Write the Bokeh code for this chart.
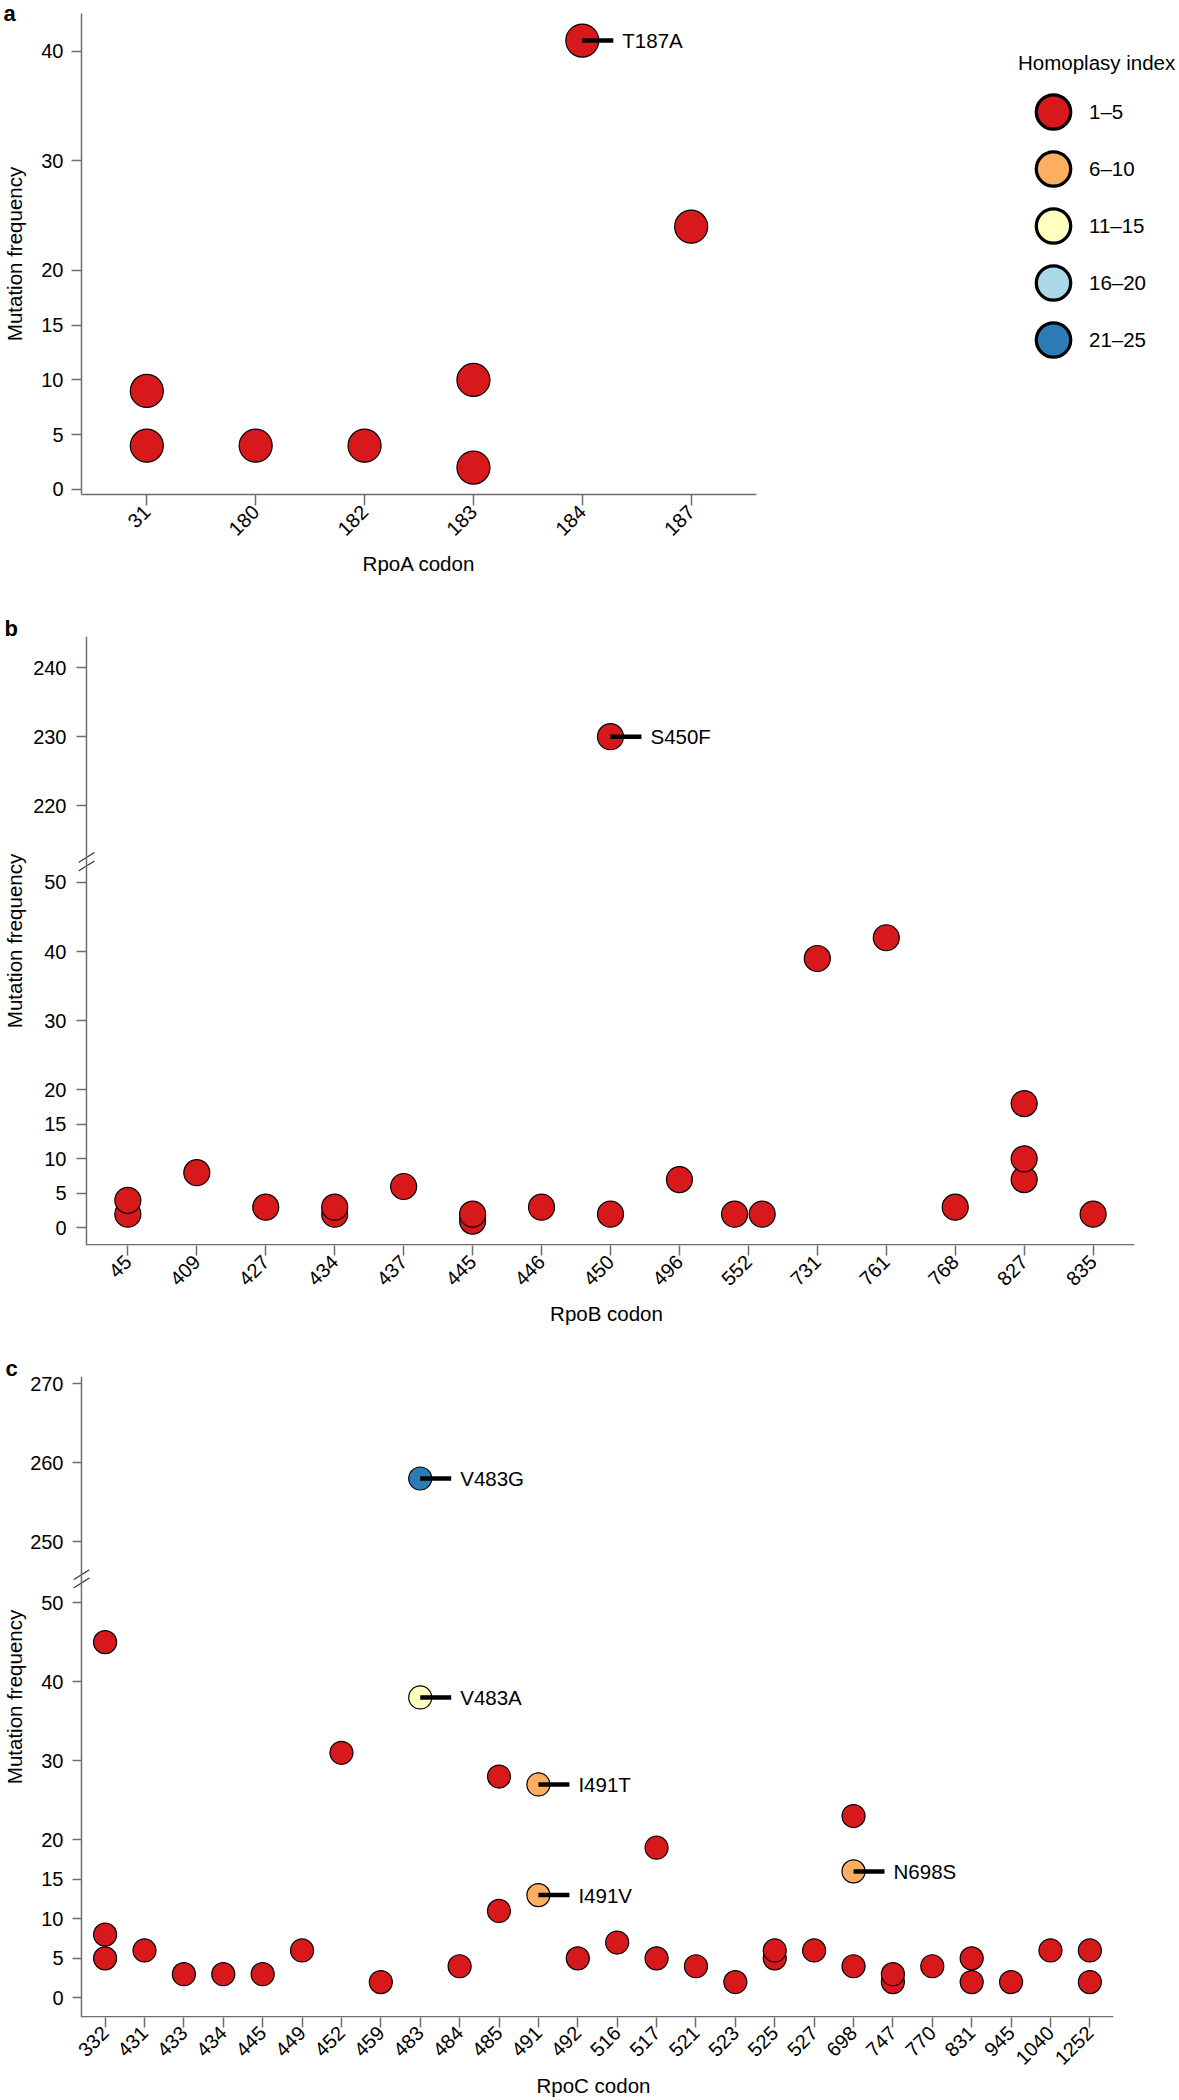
import math
from collections import Counter, defaultdict

from bokeh.plotting import figure
from bokeh.layouts import column, row
from bokeh.models import (ColumnDataSource, Range1d, FixedTicker, CustomJSTransform,
                          CustomJSTickFormatter, Span, Legend, LegendItem)
from bokeh.transform import transform, factor_cmap
from bokeh.core.properties import value
from bokeh.embed import file_html
from bokeh.resources import INLINE

FONT = "Liberation Sans"

# ---------------- data ----------------
hi_classes = ["1–5", "6–10", "11–15", "16–20", "21–25"]
hi_colors = ["#d7191c", "#fdae61", "#ffffbf", "#abd9e9", "#2c7bb6"]

# Panel a: RpoA
rpoa_ticks = ["31", "180", "182", "183", "184", "187"]
rpoa_codon = ["31", "31", "180", "182", "183", "183", "184", "187"]
rpoa_freq = [4, 9, 4, 4, 2, 10, 41, 24]
rpoa_hi = ["1–5"] * 8
rpoa_label = ["", "", "", "", "", "", "T187A", ""]
rpoa_yticks = [0, 5, 10, 15, 20, 30, 40]

# Panel b: RpoB
rpob_ticks = ["45", "409", "427", "434", "437", "445", "446", "450", "496", "552",
              "731", "761", "768", "827", "835"]
rpob_codon = ["45", "45", "409", "427", "434", "434", "437", "445", "445", "446",
              "450", "450", "496", "552", "552", "731", "761", "768", "827", "827",
              "827", "835"]
rpob_freq = [2, 4, 8, 3, 2, 3, 6, 1, 2, 3, 2, 230, 7, 2, 2, 39, 42, 3, 7, 10, 18, 2]
rpob_hi = ["1–5"] * 22
rpob_label = [""] * 11 + ["S450F"] + [""] * 10
rpob_yticks = [0, 5, 10, 15, 20, 30, 40, 50, 220, 230, 240]

# Panel c: RpoC
rpoc_ticks = ["332", "431", "433", "434", "445", "449", "452", "459", "483", "484",
              "485", "491", "492", "516", "517", "521", "523", "525", "527", "698",
              "747", "770", "831", "945", "1040", "1252"]
rpoc_codon = ["332", "332", "332", "431", "433", "434", "445", "449", "452", "459",
              "483", "483", "484", "485", "485", "491", "491", "492", "516", "517",
              "517", "521", "523", "525", "525", "527", "698", "698", "698", "747",
              "747", "770", "831", "831", "945", "1040", "1252", "1252"]
rpoc_freq = [5, 8, 45, 6, 3, 3, 3, 6, 31, 2,
             38, 258, 4, 11, 28, 13, 27, 5, 7, 5,
             19, 4, 2, 5, 6, 6, 4, 16, 23, 2,
             3, 4, 2, 5, 2, 6, 2, 6]
rpoc_hi = (["1–5"] * 10 + ["11–15", "21–25", "1–5", "1–5", "1–5", "6–10", "6–10"]
           + ["1–5"] * 10 + ["6–10"] + ["1–5"] * 10)
rpoc_label = ([""] * 10 + ["V483A", "V483G", "", "", "", "I491V", "I491T"]
              + [""] * 10 + ["N698S"] + [""] * 10)
rpoc_yticks = [0, 5, 10, 15, 20, 30, 40, 50, 250, 260, 270]

AXIS_COL = "#6e6e6e"


def dodge_positions(ticks, codon, freq):
    counts = Counter(zip(codon, freq))
    seen = defaultdict(int)
    xs = []
    for c, f in zip(codon, freq):
        n = counts[(c, f)]
        k = seen[(c, f)]
        seen[(c, f)] += 1
        off = (k - (n - 1) / 2) * 0.4 if n > 1 else 0.0
        xs.append(ticks.index(c) + off)
    return xs


def panel(ticks, codon, freq, hi, label, yticks, *, xlabel, letter, y_lo, y_hi,
          brk=None, gap=0.0, width, height, left, right, top, bottom, size,
          ylab_std, xlab_std, ext=0, xtick_std=3, ytick_std=8, ytick_out=10,
          xtick_out=10, letter_standoff=-9):
    fw = width - left - right
    fh = height - top - bottom
    n = len(ticks)
    ppx = (fw - ext) / (n + 0.2)          # pixels per category step
    ax_x = -0.6                           # where the y axis line sits
    x_lo, x_hi = ax_x - ext / ppx, n - 1 + 0.6

    def fwd(v):
        return v - gap if (brk is not None and v > brk) else v

    yr = Range1d(fwd(y_lo), fwd(y_hi))
    ppy = fh / (yr.end - yr.start)
    p = figure(width=width, height=height, x_range=Range1d(x_lo, x_hi), y_range=yr,
               output_backend="svg", toolbar_location=None, frame_align=False,
               min_border_left=left, min_border_right=right,
               min_border_top=top, min_border_bottom=bottom,
               outline_line_color=None, background_fill_color="white",
               border_fill_color="white", title=letter)
    p.grid.visible = False

    # panel letter as a left-aligned title
    p.title.align = "left"
    p.title.offset = -left
    p.title.standoff = letter_standoff
    p.title.vertical_align = "bottom"
    p.title.text_font = FONT
    p.title.text_font_style = "bold"
    p.title.text_font_size = "22px"
    p.title.text_color = "black"

    xs = dodge_positions(ticks, codon, freq)
    src = ColumnDataSource(dict(x=xs, freq=freq, hi=hi, label=label))
    if brk is not None:
        tr = CustomJSTransform(args=dict(b=brk, g=gap),
                               func="return x > b ? x - g : x",
                               v_func="return Array.from(xs, (x) => x > b ? x - g : x)")
        yspec = transform("freq", tr)
    else:
        yspec = "freq"

    xa = p.xaxis[0]
    ya = p.yaxis[0]

    if ext > 0:
        # axis lines drawn inside the (slightly widened) frame so that the
        # break marks can cross the y axis
        ya.axis_line_color = None
        xa.axis_line_color = None
        p.add_layout(Span(location=ax_x, dimension="height", line_color=AXIS_COL,
                          line_width=1.5))
        yb = yr.start + 0.75 / ppy
        p.segment(x0=[ax_x], y0=[yb], x1=[x_hi], y1=[yb], line_color=AXIS_COL,
                  line_width=1.5)
        for k in (-1, 1):
            p.segment(x0=[ax_x - 8 / ppx], y0=[brk + (k * 4.2 - 5) / ppy],
                      x1=[ax_x + 8 / ppx], y1=[brk + (k * 4.2 + 5) / ppy],
                      line_color="#333333", line_width=1.2)
        ya.major_tick_in = ext
        ya.major_tick_out = ytick_out - ext
    else:
        ya.major_tick_in = 0
        ya.major_tick_out = ytick_out
        for ax in (xa, ya):
            ax.axis_line_color = AXIS_COL
            ax.axis_line_width = 1.5

    p.scatter(x="x", y=yspec, source=src, size=size, marker="circle",
              fill_color=factor_cmap("hi", hi_colors, hi_classes),
              line_color="black", line_width=1.2)

    li = [i for i, s in enumerate(label) if s]
    lsrc = ColumnDataSource(dict(x=[xs[i] for i in li], freq=[freq[i] for i in li],
                                 label=[label[i] for i in li]))
    p.ray(x="x", y=yspec, length=31, length_units="screen", angle=0, source=lsrc,
          line_color="black", line_width=4.5)
    p.text(x="x", y=yspec, text="label", source=lsrc, x_offset=40,
           text_baseline="middle", text_align="left", text_font=value(FONT),
           text_font_size="20.5px", text_color="black")

    xa.ticker = FixedTicker(ticks=list(range(n)))
    xa.major_label_overrides = {i: t for i, t in enumerate(ticks)}
    xa.major_label_orientation = math.pi / 4
    xa.axis_label = xlabel
    xa.axis_label_standoff = xlab_std
    xa.major_label_standoff = xtick_std
    xa.major_tick_out = xtick_out
    xa.major_tick_in = 0

    ya.ticker = FixedTicker(ticks=[fwd(v) for v in yticks])
    if brk is not None:
        ya.formatter = CustomJSTickFormatter(
            args=dict(b=brk, g=gap),
            code="return String(Math.round(tick > b ? tick + g : tick))")
    ya.axis_label = "Mutation frequency"
    ya.axis_label_standoff = ylab_std
    ya.major_label_standoff = ytick_std

    for ax in (xa, ya):
        ax.major_tick_line_color = AXIS_COL
        ax.major_tick_line_width = 1.5
        ax.minor_tick_line_color = None
        ax.major_label_text_font = FONT
        ax.major_label_text_font_size = "20px"
        ax.major_label_text_color = "black"
        ax.axis_label_text_font = FONT
        ax.axis_label_text_font_size = "20.5px"
        ax.axis_label_text_font_style = "normal"
        ax.axis_label_text_color = "black"
    return p


pa = panel(rpoa_ticks, rpoa_codon, rpoa_freq, rpoa_hi, rpoa_label, rpoa_yticks,
           xlabel="RpoA codon", letter="a", y_lo=-0.46, y_hi=43.47,
           width=1000, height=600, left=78, right=244, top=13, bottom=106, size=33,
           ylab_std=12, xlab_std=7, xtick_out=11, letter_standoff=-24)

pb = panel(rpob_ticks, rpob_codon, rpob_freq, rpob_hi, rpob_label, rpob_yticks,
           xlabel="RpoB codon", letter="b", y_lo=-2.54, y_hi=244.5, brk=53.0, gap=158.9,
           width=1179, height=752, left=74, right=45, top=36, bottom=107, size=26,
           ylab_std=4, xlab_std=7, ext=8, ytick_std=10, ytick_out=10)

pc = panel(rpoc_ticks, rpoc_codon, rpoc_freq, rpoc_hi, rpoc_label, rpoc_yticks,
           xlabel="RpoC codon", letter="c", y_lo=-2.48, y_hi=270.9, brk=53.0, gap=192.3,
           width=1179, height=748, left=68, right=66, top=24, bottom=83, size=23,
           ylab_std=1, xlab_std=0, ext=8, xtick_std=2, ytick_std=9, ytick_out=9)

# legend panel
lf = figure(width=179, height=600, x_range=Range1d(0, 1), y_range=Range1d(0, 1),
            x_axis_location=None, y_axis_location=None, toolbar_location=None,
            output_backend="svg", frame_align=False,
            min_border_left=18, min_border_right=0,
            min_border_top=51, min_border_bottom=0, outline_line_color=None,
            background_fill_color="white", border_fill_color="white")
lf.grid.visible = False
items = []
for cls, col in zip(hi_classes, hi_colors):
    r = lf.ellipse(x=[float("nan")], y=[float("nan")], width=34, height=34,
                   width_units="screen", height_units="screen",
                   fill_color=col, line_color="black", line_width=3.3)
    items.append(LegendItem(label=cls, renderers=[r]))
leg = Legend(items=items, location="top_left", title="Homoplasy index",
             glyph_width=70, glyph_height=43, spacing=14, label_standoff=1,
             title_standoff=15, padding=0, margin=0, border_line_color=None,
             background_fill_alpha=0, label_text_font=FONT,
             label_text_font_size="20.5px", title_text_font=FONT,
             title_text_font_size="20.5px", title_text_font_style="normal",
             label_text_color="black", title_text_color="black")
lf.add_layout(leg)

layout = column(row(pa, lf), pb, pc)
open("out.html", "w").write(file_html(layout, INLINE))
